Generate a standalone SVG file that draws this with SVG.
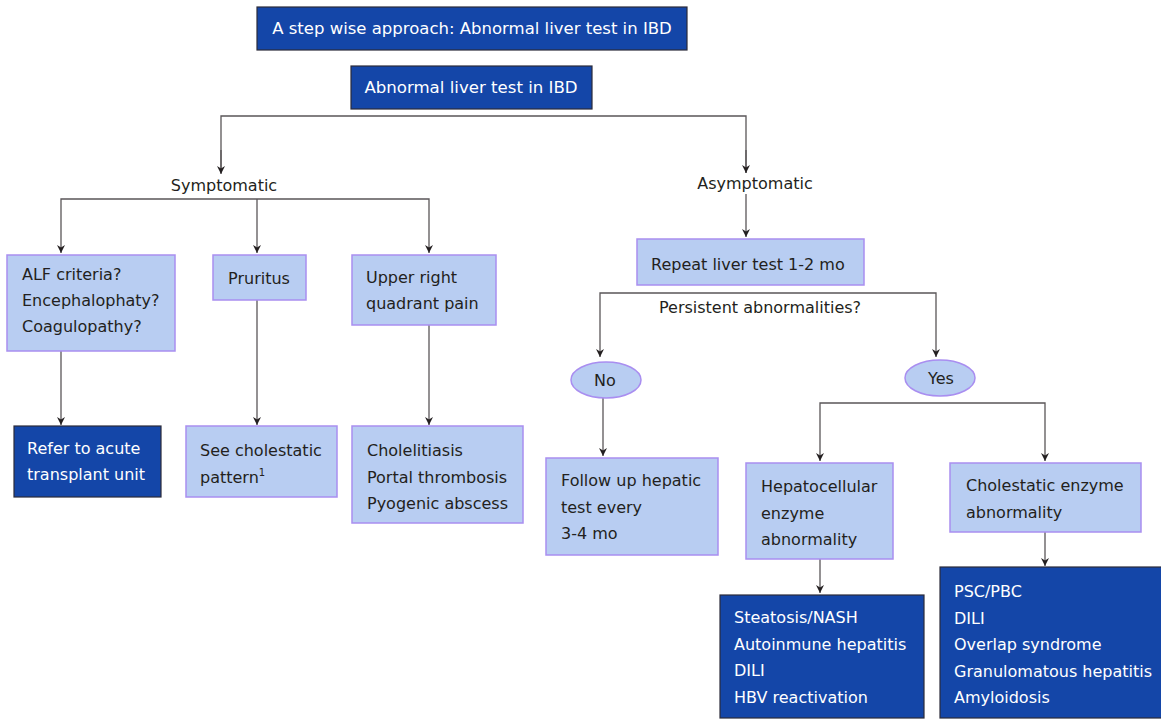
<svg xmlns="http://www.w3.org/2000/svg" width="1161" height="720" viewBox="0 0 1161 720">
<defs>
<marker id="ah" viewBox="0 0 10 10" refX="10" refY="5" markerWidth="8" markerHeight="8" orient="auto" markerUnits="userSpaceOnUse"><path d="M0,0 L10,5 L0,10 L3,5 z" fill="#231f20"/></marker>
<style>
text{font-family:"DejaVu Sans","Verdana",sans-serif;font-size:16px;fill:#231f20}
.dark{fill:#1446a8;stroke:#2b2b3a;stroke-width:1.2}
.light{fill:#b8cdf2;stroke:#a98ef0;stroke-width:1.5}
.w{fill:#ffffff}
.c{text-anchor:middle}
.ln{fill:none;stroke:#5a5658;stroke-width:1.3}
.ar{fill:none;stroke:#5a5658;stroke-width:1.3;marker-end:url(#ah)}
</style>
</defs>
<g id="connectors">
<polyline class="ln" points="221,173 221,116 746,116 746,173"/>
<line class="ar" x1="221" y1="150" x2="221" y2="174"/>
<line class="ar" x1="746" y1="150" x2="746" y2="173"/>
<polyline class="ar" points="257,199 61,199 61,253"/>
<polyline class="ar" points="257,199 429,199 429,253"/>
<line class="ar" x1="257" y1="199" x2="257" y2="253"/>
<line class="ar" x1="61" y1="351" x2="61" y2="425"/>
<line class="ar" x1="257" y1="300" x2="257" y2="425"/>
<line class="ar" x1="429" y1="325" x2="429" y2="425"/>
<line class="ar" x1="746" y1="194" x2="746" y2="237"/>
<polyline class="ar" points="750,293 600,293 600,357"/>
<polyline class="ar" points="750,293 936,293 936,357"/>
<line class="ar" x1="603" y1="398" x2="603" y2="456"/>
<polyline class="ar" points="940,403 820,403 820,461"/>
<polyline class="ar" points="940,403 1045,403 1045,461"/>
<line class="ar" x1="820" y1="559" x2="820" y2="593"/>
<line class="ar" x1="1045" y1="532" x2="1045" y2="566"/>
</g>
<g id="title"><rect class="dark" x="257" y="7" width="430" height="43"/><text class="w c" x="472" y="34" style="font-size:16.5px">A step wise approach: Abnormal liver test in IBD</text></g>
<g id="abnormal"><rect class="dark" x="351" y="66" width="241" height="43"/><text class="w c" x="471" y="93" style="font-size:16.6px">Abnormal liver test in IBD</text></g>
<g id="symptomatic"><text class="c" x="224" y="191">Symptomatic</text></g>
<g id="asymptomatic"><text class="c" x="755" y="189">Asymptomatic</text></g>
<g id="alf"><rect class="light" x="7" y="255" width="168" height="96"/><text x="22" y="280">ALF criteria?</text><text x="22" y="306">Encephalophaty?</text><text x="22" y="332">Coagulopathy?</text></g>
<g id="pruritus"><rect class="light" x="213" y="255" width="93" height="45"/><text class="c" x="259" y="284">Pruritus</text></g>
<g id="urq"><rect class="light" x="352" y="255" width="144" height="70"/><text x="366" y="283">Upper right</text><text x="366" y="309">quadrant pain</text></g>
<g id="refer"><rect class="dark" x="14" y="426" width="147" height="71"/><text class="w" x="27" y="454">Refer to acute</text><text class="w" x="27" y="480">transplant unit</text></g>
<g id="seechol"><rect class="light" x="186" y="426" width="151" height="71"/><text x="200" y="456">See cholestatic</text><text x="200" y="483">pattern<tspan font-size="10" dy="-7">1</tspan></text></g>
<g id="chole"><rect class="light" x="352" y="426" width="171" height="97"/><text x="367" y="456">Cholelitiasis</text><text x="367" y="483">Portal thrombosis</text><text x="367" y="509">Pyogenic abscess</text></g>
<g id="repeat"><rect class="light" x="637" y="239" width="227" height="46"/><text x="651" y="270">Repeat liver test 1-2 mo</text></g>
<g id="persistent"><text class="c" x="760" y="313">Persistent abnormalities?</text></g>
<g id="no"><ellipse class="light" cx="606" cy="380" rx="35" ry="18"/><text class="c" x="605" y="386">No</text></g>
<g id="yes"><ellipse class="light" cx="940" cy="378" rx="35" ry="18"/><text class="c" x="941" y="384">Yes</text></g>
<g id="follow"><rect class="light" x="546" y="458" width="172" height="97"/><text x="561" y="486">Follow up hepatic</text><text x="561" y="513">test every</text><text x="561" y="539">3-4 mo</text></g>
<g id="hepato"><rect class="light" x="746" y="463" width="147" height="96"/><text x="761" y="492">Hepatocellular</text><text x="761" y="519">enzyme</text><text x="761" y="545">abnormality</text></g>
<g id="cholenz"><rect class="light" x="950" y="463" width="191" height="69"/><text x="966" y="491">Cholestatic enzyme</text><text x="966" y="518">abnormality</text></g>
<g id="steatosis"><rect class="dark" x="720" y="595" width="204" height="123"/><text class="w" x="734" y="623">Steatosis/NASH</text><text class="w" x="734" y="650">Autoinmune hepatitis</text><text class="w" x="734" y="676">DILI</text><text class="w" x="734" y="703">HBV reactivation</text></g>
<g id="psc"><rect class="dark" x="940" y="567" width="222" height="151"/><text class="w" x="954" y="597">PSC/PBC</text><text class="w" x="954" y="624">DILI</text><text class="w" x="954" y="650">Overlap syndrome</text><text class="w" x="954" y="677">Granulomatous hepatitis</text><text class="w" x="954" y="703">Amyloidosis</text></g>
</svg>
